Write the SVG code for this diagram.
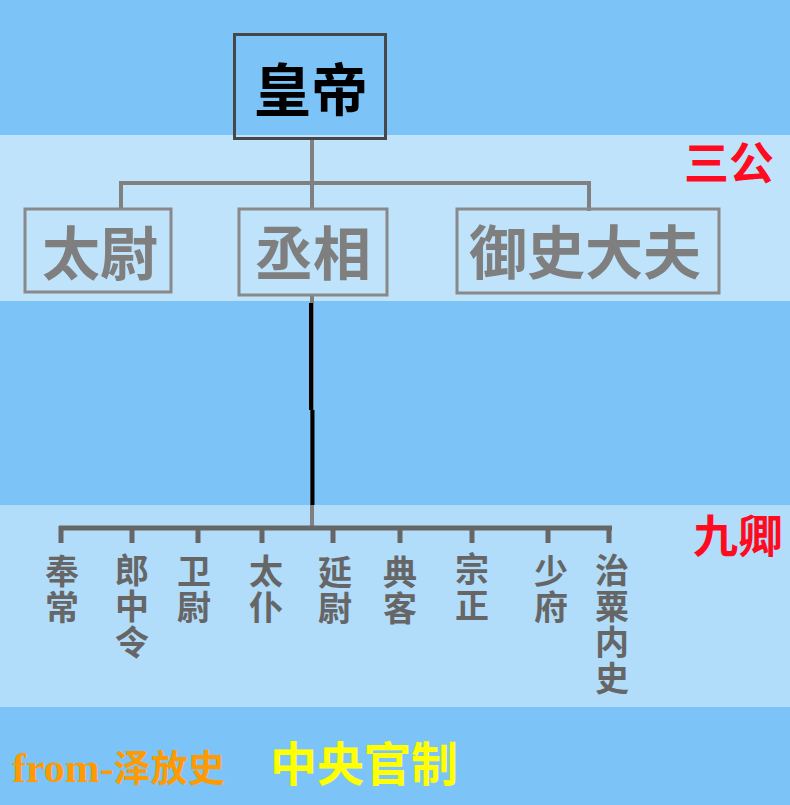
<svg xmlns="http://www.w3.org/2000/svg" width="790" height="805" viewBox="0 0 790 805">
<style>
.cjk{font-family:"Noto Sans CJK SC","Noto Sans",sans-serif;font-weight:bold;text-anchor:middle;dominant-baseline:central}
.box{fill:none;stroke:#898989;stroke-width:3}
.top{fill:#7f7f7f;font-size:58px}
.nine{font-family:"Noto Sans CJK SC","Noto Sans",sans-serif;font-weight:bold;fill:#666666;font-size:34px;writing-mode:vertical-rl;letter-spacing:2px}
.ln{stroke:#808080;stroke-width:4;fill:none}
.ln2{stroke:#666666;stroke-width:5;fill:none}
.tag{fill:#ff0a1e;font-size:45px}
</style>
<g id="background">
<rect x="0" y="0" width="790" height="135" fill="#7cc4f8"/>
<rect x="0" y="135" width="790" height="166" fill="#bee3fb"/>
<rect x="0" y="301" width="790" height="204" fill="#7cc4f8"/>
<rect x="0" y="505" width="790" height="202" fill="#b1dcfa"/>
<rect x="0" y="707" width="790" height="98" fill="#7cc4f8"/>
</g>
<g id="connectors">
<path class="ln" d="M312 138V208M121 183H589M121 181V208M589 181V211"/>
<path class="ln" d="M312 296V527"/>
<path d="M311 303V410" stroke="#000" stroke-width="4"/>
<path d="M312.5 410V505" stroke="#000" stroke-width="4"/>
<path class="ln2" d="M59 528H612M61 526V543M132 526V543M198 526V543M262 526V543M333 526V543M400 526V543M472 526V543M548 526V543M609 526V543"/>
</g>
<g id="huangdi">
<rect x="234.5" y="34.5" width="151" height="104" fill="none" stroke="#474747" stroke-width="3"/>
<text class="cjk" x="311" y="86" font-size="57" fill="#000">皇帝</text>
</g>
<g id="taiwei">
<rect class="box" x="25" y="209" width="146" height="83"/>
<text class="cjk top" x="100" y="250">太尉</text>
</g>
<g id="chengxiang">
<rect class="box" x="239" y="209" width="148" height="86"/>
<text class="cjk top" x="313" y="250">丞相</text>
</g>
<g id="yushidafu">
<rect class="box" x="457" y="209" width="262" height="84"/>
<text class="cjk top" x="585" y="249">御史大夫</text>
</g>
<g id="sangong"><text class="cjk tag" x="729" y="160">三公</text></g>
<g id="jiuqing"><text class="cjk tag" x="738" y="533">九卿</text></g>
<g id="fengchang"><text class="nine" x="62" y="554">奉常</text></g>
<g id="langzhongling"><text class="nine" x="132" y="553">郎中令</text></g>
<g id="weiwei"><text class="nine" x="194" y="554">卫尉</text></g>
<g id="taipu"><text class="nine" x="266" y="554">太仆</text></g>
<g id="yanwei"><text class="nine" x="335" y="555">延尉</text></g>
<g id="dianke"><text class="nine" x="400" y="555">典客</text></g>
<g id="zongzheng"><text class="nine" x="472" y="552">宗正</text></g>
<g id="shaofu"><text class="nine" x="551" y="554">少府</text></g>
<g id="zhisuneishi"><text class="nine" x="612" y="553">治粟内史</text></g>
<g id="footer">
<text x="12" y="782" fill="#ff9a00" font-weight="bold" font-family="'Liberation Serif','Noto Sans CJK SC',serif" font-size="42">from-<tspan font-family="'Noto Sans CJK SC',sans-serif" font-size="37">泽放史</tspan></text>
<text class="cjk" x="364" y="760" font-size="47" fill="#ffff00">中央官制</text>
</g>
</svg>
